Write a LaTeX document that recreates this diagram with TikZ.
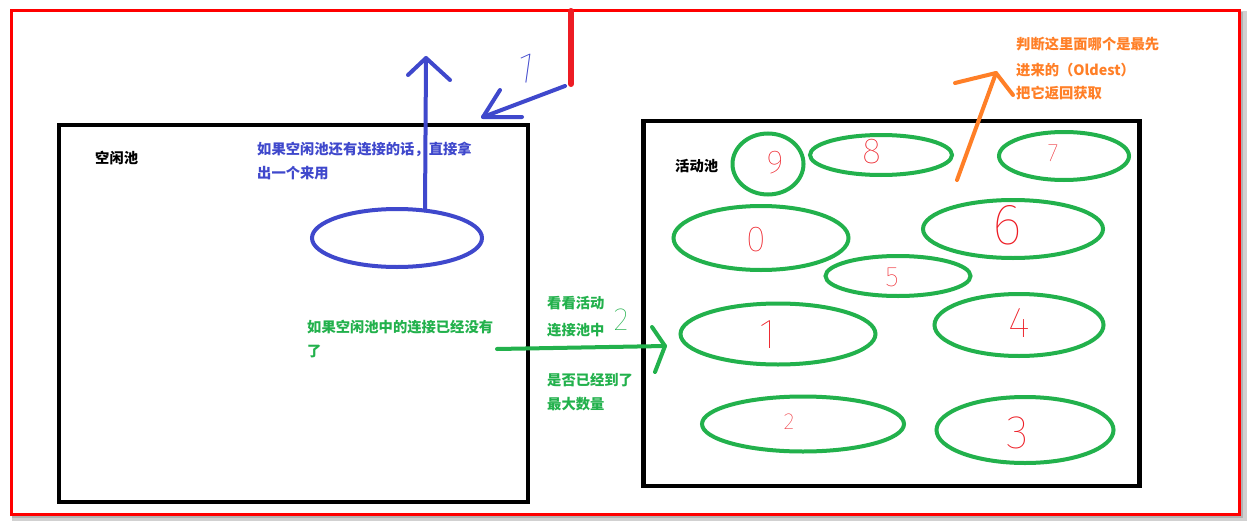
\documentclass[tikz,border=0pt]{standalone}
\usepackage{fontspec}
\newfontfamily\cjk{Noto Sans CJK SC}
\newfontfamily\thin{Fira Sans Thin}
\definecolor{frameRed}{HTML}{FF0000}
\definecolor{penRed}{HTML}{ED1C24}
\definecolor{penBlue}{HTML}{3F48CC}
\definecolor{penGreen}{HTML}{22B14C}
\definecolor{penOrange}{HTML}{FF7F27}
\tikzset{
  pool/.style={draw=black, line width=4.5pt},
  conn/.style={draw=penGreen, line width=4pt, ellipse},
  stroke/.style={line width=4pt, line cap=round, line join=round},
  cjktext/.style={font=\cjk\bfseries\fontsize{14.3}{16}\selectfont, anchor=west, inner sep=0pt},
  digit/.style={text=penRed, inner sep=0pt, font=\thin\fontsize{#1}{#1}\selectfont},
}
\usetikzlibrary{shapes.geometric}
\begin{document}
\begin{tikzpicture}[x=1pt,y=-1pt]
\useasboundingbox (0,0) rectangle (1252,527);
\fill[white] (0,0) rectangle (1252,527);
% shadow and frame
\draw[black!18, line width=5pt] (14,14) rectangle (1244,518);
\draw[black!30, line width=2pt] (13,13) rectangle (1241.5,516.5);
\draw[frameRed, line width=3pt, fill=white] (11,11) rectangle (1239,514);

% pools
\node[pool, minimum width=469pt, minimum height=377pt, inner sep=0pt] (idle) at (293.5,313.5) {};
\node[pool, minimum width=496pt, minimum height=365pt, inner sep=0pt] (active) at (891.5,303.5) {};
\node[cjktext, text=black] (idlelbl) at (95,158) {空闲池};
\node[cjktext, text=black] (actlbl) at (675,166) {活动池};

% blue part
\node[draw=penBlue, line width=4pt, ellipse, minimum width=170pt, minimum height=58pt, inner sep=0pt] (blueconn) at (397,238) {};
\node[cjktext, text=penBlue] (bt1) at (257,149) {如果空闲池还有连接的话，直接拿};
\node[cjktext, text=penBlue] (bt2) at (257,173) {出一个来用};
\coordinate (bstart) at (425,210.5);
\coordinate (btip) at (426,58);
\coordinate (bw1) at (408,75);
\coordinate (bw2) at (450,80);
\draw[stroke, penBlue] (bstart) -- (btip);
\draw[stroke, penBlue] (bw1) -- (btip) -- (bw2);

% red request line and arrow 1
\coordinate (rtop) at (571,11);
\coordinate (rbot) at (571,84);
\draw[penRed, line width=6pt, line cap=round] (rtop) -- (rbot);
\coordinate (a1s) at (565,86);
\coordinate (a1t) at (483,117);
\coordinate (a1w1) at (500,90);
\coordinate (a1w2) at (522,117);
\draw[stroke, penBlue] (a1s) -- (a1t);
\draw[stroke, penBlue] (a1w1) -- (a1t) -- (a1w2);
\node[text=penBlue, inner sep=0pt, rotate=-8, font=\thin\fontsize{44}{44}\selectfont] (lbl1) at (526,68) {1};

% green part
\node[cjktext, text=penGreen] (gt1) at (307,327) {如果空闲池中的连接已经没有};
\node[cjktext, text=penGreen] (gt2) at (307,351) {了};
\node[cjktext, text=penGreen] (gt3) at (547,303) {看看活动};
\node[cjktext, text=penGreen] (gt4) at (547,330) {连接池中};
\node[cjktext, text=penGreen] (gt5) at (547,380) {是否已经到了};
\node[cjktext, text=penGreen] (gt6) at (547,404) {最大数量};
\node[text=penGreen, inner sep=0pt, font=\thin\fontsize{32}{32}\selectfont] (lbl2) at (621,320) {2};
\coordinate (gs) at (497,349);
\coordinate (gtip) at (665,346);
\coordinate (gw1) at (652,327);
\coordinate (gw2) at (655,372);
\draw[stroke, penGreen] (gs) -- (gtip);
\draw[stroke, penGreen] (gw1) -- (gtip) -- (gw2);

% connections in active pool
\node[conn, minimum width=71pt, minimum height=61pt] (c9) at (768,164) {};
\node[conn, minimum width=142pt, minimum height=40pt] (c8) at (881,155) {};
\node[conn, minimum width=130pt, minimum height=48pt] (c7) at (1064,156) {};
\node[conn, minimum width=175pt, minimum height=64pt] (c0) at (761,238) {};
\node[conn, minimum width=180pt, minimum height=58pt] (c6) at (1013,229) {};
\node[conn, minimum width=145pt, minimum height=40pt] (c5) at (898,276) {};
\node[conn, minimum width=195pt, minimum height=61pt] (c1) at (778,334) {};
\node[conn, minimum width=169pt, minimum height=62pt] (c4) at (1019,325) {};
\node[conn, minimum width=202pt, minimum height=55pt] (c2) at (803,424) {};
\node[conn, minimum width=177pt, minimum height=66pt] (c3) at (1025,430) {};
\node[digit=33] (d9) at (775,163) {9};
\node[digit=36] (d8) at (872,152) {8};
\node[digit=25] (d7) at (1053,153) {7};
\node[digit=36] (d0) at (756,240) {0};
\node[digit=58] (d6) at (1007,225) {6};
\node[digit=28] (d5) at (892,277) {5};
\node[digit=42] (d1) at (768,335) {1};
\node[digit=43] (d4) at (1019,323) {4};
\node[digit=23] (d2) at (789,422) {2};
\node[digit=47] (d3) at (1018,433) {3};

% orange part
\coordinate (os) at (957,180);
\coordinate (otip) at (996,73);
\coordinate (ow1) at (955,83);
\coordinate (ow2) at (1013,95);
\draw[stroke, penOrange] (os) -- (otip);
\draw[stroke, penOrange] (ow1) -- (otip) -- (ow2);
\node[cjktext, text=penOrange] (ot1) at (1016,44) {判断这里面哪个是最先};
\node[cjktext, text=penOrange] (ot2) at (1016,70) {进来的（Oldest）};
\node[cjktext, text=penOrange] (ot3) at (1016,93) {把它返回获取};
\end{tikzpicture}
\end{document}
